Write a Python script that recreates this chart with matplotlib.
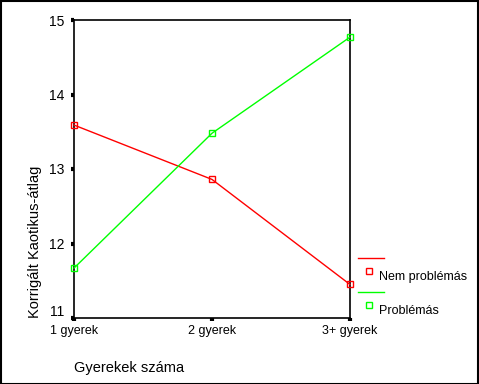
import matplotlib
matplotlib.use('Agg')
import matplotlib.pyplot as plt
import matplotlib.transforms as mtransforms
from matplotlib.lines import Line2D
from matplotlib.patches import Rectangle

plt.rcParams['font.family'] = ['Liberation Sans', 'DejaVu Sans']

# data
categories = ['1 gyerek', '2 gyerek', '3+ gyerek']
nem_problemas = [13.59, 12.86, 11.45]
problemas = [11.67, 13.48, 14.77]
series_names = ['Nem problémás', 'Problémás']
series_colors = ['#ff0000', '#00ff00']
y_ticks = [11, 12, 13, 14, 15]

W, H = 479, 384
fig = plt.figure(figsize=(W / 100, H / 100), dpi=100)
ax = fig.add_axes([74 / W, 1 - 318 / H, (350 - 74) / W, (318 - 20) / H])

x = range(len(categories))
for vals, col in zip([nem_problemas, problemas], series_colors):
    ax.plot(x, vals, color=col, lw=1, marker='s', ms=5, mfc='none',
            mec=col, mew=1, clip_on=False, zorder=3)

ax.set_xlim(0, len(categories) - 1)
ax.set_ylim(y_ticks[0], y_ticks[-1])
ax.set_yticks(y_ticks)
ax.set_xticks(list(x))
ax.set_xticklabels(categories)
for s in ax.spines.values():
    s.set_linewidth(1.2)
ax.tick_params(direction='out', length=2, width=3, pad=3)
ax.tick_params(axis='y', labelsize=10, pad=5)
ax.tick_params(axis='x', labelsize=9)

# lowest y label sits a little above its tick, as in SPSS output
fig.canvas.draw()
lbl = ax.get_yticklabels()[0]
lbl.set_transform(lbl.get_transform() +
                  mtransforms.ScaledTranslation(0, 7 / 100, fig.dpi_scale_trans))

ax.set_xlabel('Gyerekek száma', fontsize=10.5)
ax.xaxis.set_label_coords(0.0, -0.145)
ax.xaxis.label.set_ha('left')
ax.set_ylabel('Korrigált Kaotikus-átlag', fontsize=10.5)
ax.yaxis.set_label_coords(-0.14, 0.0)
ax.yaxis.label.set_va('center')
ax.yaxis.label.set_ha('left')

# SPSS-style legend at the right
def fx(px):
    return px / W

def fy(py):
    return 1 - py / H

legend_rows = [258, 292]
for name, col, yy in zip(series_names, series_colors, legend_rows):
    fig.add_artist(Line2D([fx(358), fx(384)], [fy(yy), fy(yy)], color=col, lw=1))
    fig.add_artist(Line2D([fx(369)], [fy(yy + 13)], marker='s', ms=4.5,
                          mfc='none', mec=col, mew=1, color=col))
    fig.text(fx(379), fy(yy + 19), name, fontsize=9, va='center', ha='left')

# outer border
fig.add_artist(Rectangle((0.5 / W, 0.5 / H), 1 - 1.5 / W, 1 - 1.5 / H,
                         transform=fig.transFigure,
                         fill=False, ec='black', lw=1.5))

fig.savefig('out.png', dpi=100)
